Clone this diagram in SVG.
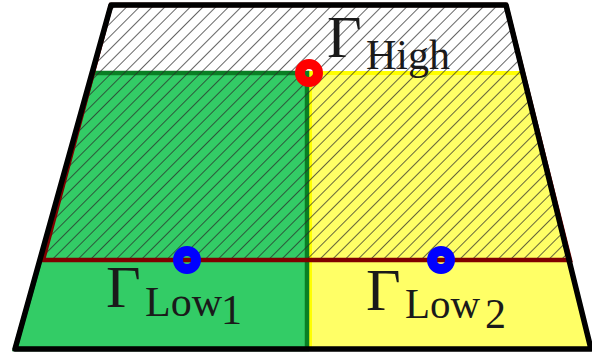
<svg xmlns="http://www.w3.org/2000/svg" width="592" height="358" viewBox="0 0 592 358">
  <style>
    .lbl { font-family: "Liberation Serif", "DejaVu Serif", serif; fill: #1a1a1a; }
    .gam { font-size: 60px; }
    .sub { font-size: 42px; }
  </style>
  <defs>
    <pattern id="hatch" patternUnits="userSpaceOnUse" width="9" height="9" patternTransform="rotate(-45)">
      <line x1="0" y1="4.5" x2="9" y2="4.5" stroke="#2a2a2a" stroke-width="0.9" stroke-opacity="0.8"/>
    </pattern>
  </defs>
  <rect width="592" height="358" fill="#ffffff"/>
  <g id="region-low2">
    <polygon points="310,73 523,73 591,349 310,349" fill="#ffff66" stroke="#ffff00" stroke-width="4"/>
  </g>
  <g id="region-low1">
    <polygon points="93,73 307,73 307,349 15,349" fill="#33cc66" stroke="#0a7f24" stroke-width="4.5"/>
  </g>
  <g id="region-high">
    <polygon points="111,5 506,5 570,260 43,260" fill="url(#hatch)" stroke="#800000" stroke-width="4.5"/>
  </g>
  <g id="domain">
    <polygon points="111,5 506,5 591,349 15,349" fill="none" stroke="#000000" stroke-width="5.5" stroke-linejoin="round"/>
  </g>
  <g id="points">
    <circle id="p-high" cx="309" cy="73" r="9" fill="none" stroke="#ff0000" stroke-width="10"/>
    <circle id="p-low1" cx="187" cy="260" r="9" fill="none" stroke="#0000ff" stroke-width="10"/>
    <circle id="p-low2" cx="441" cy="260" r="9" fill="none" stroke="#0000ff" stroke-width="10"/>
  </g>
  <g id="labels">
    <text class="lbl gam" x="327" y="57">Γ</text>
    <text class="lbl sub" x="366" y="69" textLength="84" lengthAdjust="spacingAndGlyphs">High</text>
    <text class="lbl gam" x="106" y="307">Γ</text>
    <text class="lbl sub" x="145" y="316" textLength="77" lengthAdjust="spacingAndGlyphs">Low</text>
    <text class="lbl sub" x="221" y="324">1</text>
    <text class="lbl gam" x="366" y="310">Γ</text>
    <text class="lbl sub" x="405" y="318" textLength="75" lengthAdjust="spacingAndGlyphs">Low</text>
    <text class="lbl sub" x="485" y="328">2</text>
  </g>
</svg>
